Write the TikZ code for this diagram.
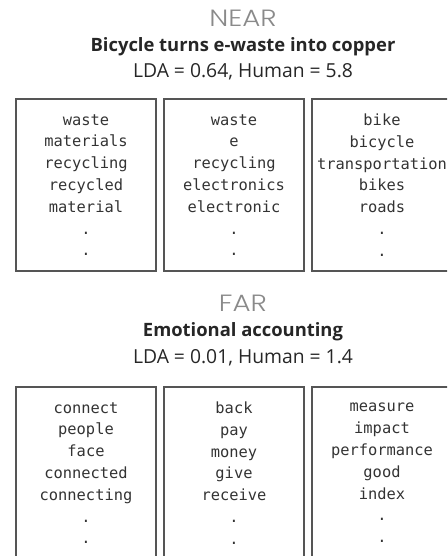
\documentclass[tikz,border=0pt]{standalone}
\usepackage{fontspec}
\setmainfont{Open Sans}
\newfontfamily\monofont{DejaVu Sans Mono}
\newfontfamily\thinfont{Poppins Light}
\usepackage{tikz}
\usetikzlibrary{positioning}
\definecolor{boxline}{HTML}{555555}
\definecolor{wordcol}{HTML}{333333}
\definecolor{headcol}{HTML}{8A8A8A}
\tikzset{
	topicbox/.style={draw=boxline, line width=1.2pt, outer sep=0pt, align=center,
		minimum width=140pt, minimum height=172pt, inner sep=0pt,
		text=wordcol, font=\monofont\fontsize{15.4}{21.8}\selectfont},
	headlabel/.style={font=\thinfont\fontsize{23.5}{26}\selectfont, text=headcol,
		xscale=1.18, transform shape},
	titlelabel/.style={font=\bfseries\fontsize{18.4}{21}\selectfont, text=black!85},
	scorelabel/.style={font=\fontsize{19.3}{22}\selectfont, text=black!85}
}
\begin{document}
\begin{tikzpicture}[x=1pt, y=1pt, node distance=8pt]
	\useasboundingbox (0,0) rectangle (447,-556);
	\clip (0,0) rectangle (447,-556);
	
	%% ── NEAR pair ───────────────────────────────────────────────────
	\node[headlabel] (near) at (243,-18) {NEAR};
	\node[titlelabel] (neartitle) at (243,-47) {Bicycle turns e-waste into copper};
	\node[scorelabel] (nearscore) at (243,-72) {LDA = 0.64, Human = 5.8};
	
	\node[topicbox] (n1) at (86,-185)
	{waste\\materials\\recycling\\recycled\\material\\.\\.};
	\node[topicbox, right=of n1] (n2)
	{waste\\e\\recycling\\electronics\\electronic\\.\\.};
	\node[topicbox, right=of n2] (n3)
	{bike\\bicycle\\transportation\\bikes\\roads\\.\\.};
	
	%% ── FAR pair ────────────────────────────────────────────────────
	\node[headlabel] (far) at (243,-303) {FAR};
	\node[titlelabel] (fartitle) at (243,-332) {Emotional accounting};
	\node[scorelabel] (farscore) at (243,-358) {LDA = 0.01, Human = 1.4};
	
	\node[topicbox] (f1) at (86,-473)
	{connect\\people\\face\\connected\\connecting\\.\\.};
	\node[topicbox, right=of f1] (f2)
	{back\\pay\\money\\give\\receive\\.\\.};
	\node[topicbox, right=of f2] (f3)
	{measure\\impact\\performance\\good\\index\\.\\.};
\end{tikzpicture}
\end{document}
